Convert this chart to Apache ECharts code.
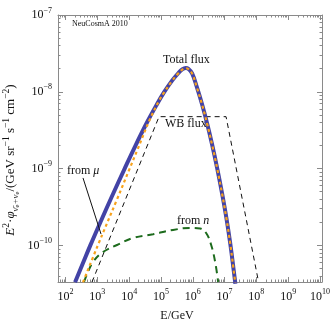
<!DOCTYPE html>
<html><head><meta charset="utf-8">
<script src="https://cdn.jsdelivr.net/npm/echarts@6/dist/echarts.min.js"></script>
<style>html,body{margin:0;padding:0;background:#fff}#c{width:332px;height:324px}</style>
</head><body><div id="c"></div>
<script>
// axis ranges (log10 units)
const xMin = 1.764, xMax = 10.063;
const yMin = -10.477, yMax = -7;
const xMajor = [2, 3, 4, 5, 6, 7, 8, 9, 10];
const yMajor = [-10, -9, -8, -7];

// series: [log10(E/GeV), log10(E^2 phi / (GeV sr^-1 s^-1 cm^-2))]
const totalFlux = [
  [2.30,-10.48],[2.54,-10.24],[2.78,-10.00],[3.10,-9.695],[3.45,-9.37],[3.86,-9.00],
  [4.20,-8.70],[4.56,-8.40],[4.85,-8.18],[5.10,-8.005],[5.35,-7.855],[5.55,-7.755],
  [5.68,-7.705],[5.78,-7.69],[5.86,-7.70],[5.98,-7.76],[6.13,-7.94],[6.29,-8.16],
  [6.45,-8.41],[6.61,-8.69],[6.77,-9.00],[6.92,-9.32],[7.06,-9.65],[7.18,-9.98],
  [7.28,-10.30],[7.34,-10.50]
];
const fromMu = [
  [2.55,-10.48],[3.016,-10.0],[3.61,-9.41],[4.017,-9.0],[4.256,-8.76],[4.64,-8.37],
  [4.95,-8.11],[5.10,-8.008],[5.35,-7.858],[5.55,-7.758],[5.68,-7.708],[5.78,-7.693],
  [5.86,-7.703],[5.98,-7.763],[6.13,-7.943],[6.29,-8.163],[6.45,-8.413],[6.61,-8.693],
  [6.77,-9.003],[6.92,-9.323],[7.06,-9.653],[7.18,-9.983],[7.28,-10.303],[7.34,-10.503]
];
const fromN = [
  [2.582,-10.477],[2.708,-10.346],[2.865,-10.216],[3.179,-10.086],[3.619,-9.995],
  [4.123,-9.904],[4.752,-9.855],[5.381,-9.799],[5.915,-9.773],[6.230,-9.780],
  [6.421,-9.839],[6.579,-9.995],[6.704,-10.216],[6.799,-10.477]
];
const wbFlux = [[2.833,-10.477],[4.940,-8.324],[7.047,-8.324],[8.069,-10.477]];
const muPointer = [[2.55,-9.122],[3.116,-9.852]];

const minorVals = (lo, hi) => {
  const out = [];
  for (let n = Math.floor(lo) - 1; n <= Math.ceil(hi); n++)
    for (let k = 2; k <= 9; k++) { const v = n + Math.log10(k); if (v > lo && v < hi) out.push(v); }
  return out;
};
const xMinor = minorVals(xMin, xMax), yMinor = minorVals(yMin, yMax);

const SERIF = '"Liberation Serif","DejaVu Serif",serif';
const frameColor = '#8a8a8a';
const supRich = {
  b: {fontFamily: SERIF, fontSize: 12, lineHeight: 17, color: '#111'},
  s: {fontFamily: SERIF, fontSize: 8, lineHeight: 9, verticalAlign: 'top', color: '#111'}
};

function xAx(pos, major, label) {
  return {
    type: 'value', min: xMin, max: xMax, position: pos,
    axisLine: {show: major, onZero: false, lineStyle: {color: frameColor, width: 1}},
    axisTick: {show: true, inside: true, length: major ? 5 : 2.5, customValues: major ? xMajor : xMinor,
               lineStyle: {color: frameColor}},
    axisLabel: {show: label, customValues: xMajor, margin: 6, hideOverlap: false,
                formatter: v => '{b|10}{s|' + Math.round(v) + '}', rich: supRich},
    splitLine: {show: false}
  };
}
function yAx(pos, major, label) {
  return {
    type: 'value', min: yMin, max: yMax, position: pos,
    axisLine: {show: major, onZero: false, lineStyle: {color: frameColor, width: 1}},
    axisTick: {show: true, inside: true, length: major ? 5 : 2.5, customValues: major ? yMajor : yMinor,
               lineStyle: {color: frameColor}},
    axisLabel: {show: label, customValues: yMajor, margin: 6, hideOverlap: false,
                formatter: v => '{b|10}{s|\u2212' + Math.abs(Math.round(v)) + '}', rich: supRich},
    splitLine: {show: false}
  };
}

const yTitleRich = {
  n: {fontFamily: SERIF, fontSize: 13, lineHeight: 19, fill: '#111'},
  i: {fontFamily: SERIF, fontSize: 13, lineHeight: 19, fontStyle: 'italic', fill: '#111'},
  sp: {fontFamily: SERIF, fontSize: 9.5, lineHeight: 10, verticalAlign: 'top', fill: '#111'},
  sb: {fontFamily: SERIF, fontSize: 9, lineHeight: 10, verticalAlign: 'bottom', fontStyle: 'italic', fill: '#111'},
  ssb: {fontFamily: SERIF, fontSize: 6.5, lineHeight: 6, verticalAlign: 'bottom', fill: '#111'}
};

const chart = echarts.init(document.getElementById('c'), null, {renderer: 'canvas'});
chart.setOption({
  animation: false,
  backgroundColor: '#fff',
  grid: {left: 58, right: 10, top: 15, bottom: 42, containLabel: false, outerBoundsMode: 'none'},
  xAxis: [xAx('bottom', true, true), xAx('bottom', false, false), xAx('top', true, false), xAx('top', false, false)],
  yAxis: [yAx('left', true, true), yAx('left', false, false), yAx('right', true, false), yAx('right', false, false)],
  series: [
    {type: 'line', data: wbFlux, showSymbol: false, symbol: 'none', clip: true,
     lineStyle: {color: '#111', width: 1, type: [5, 4]}},
    {type: 'line', data: fromN, showSymbol: false, symbol: 'none', smooth: 0.4, clip: true,
     lineStyle: {color: '#1d6b1d', width: 2, type: [7, 5]}},
    {type: 'line', data: totalFlux, showSymbol: false, symbol: 'none', smooth: 0.4, clip: true,
     lineStyle: {color: '#4343a6', width: 4}},
    {type: 'line', data: fromMu, showSymbol: false, symbol: 'none', smooth: 0.4, clip: true,
     lineStyle: {color: '#f7a21b', width: 2.2, type: [3, 3]},
     markLine: {silent: true, symbol: 'none', label: {show: false},
       lineStyle: {color: '#111', width: 1, type: 'solid'},
       data: [[{coord: muPointer[0]}, {coord: muPointer[1]}]]}}
  ],
  graphic: [
    {type: 'text', left: 72, top: 20, style: {text: 'NeuCosmA 2010', font: '8px ' + SERIF, fill: '#111'}},
    {type: 'text', left: 163, top: 54, style: {text: 'Total flux', font: '12px ' + SERIF, fill: '#111'}},
    {type: 'text', left: 165, top: 118, style: {text: 'WB flux', font: '12px ' + SERIF, fill: '#111'}},
    {type: 'text', left: 67, top: 165, style: {text: '{n|from }{i|\u03bc}', font: '12px ' + SERIF, fill: '#111',
      rich: {n: {font: '12px ' + SERIF, fill: '#111'}, i: {font: 'italic 12px ' + SERIF, fill: '#111'}}}},
    {type: 'text', left: 177, top: 215, style: {text: '{n|from }{i|n}', font: '12px ' + SERIF, fill: '#111',
      rich: {n: {font: '12px ' + SERIF, fill: '#111'}, i: {font: 'italic 12px ' + SERIF, fill: '#111'}}}},
    {type: 'text', x: 177, y: 316, style: {text: 'E/GeV', font: '12px ' + SERIF, fill: '#111',
      align: 'center', verticalAlign: 'middle'}},
    {type: 'text', x: 11, y: 160, rotation: Math.PI / 2,
     style: {text: '{i|E}{sp|2}{n|\u00b7}{i|\u03c6}{sb|\u03bd\u0304}{ssb|e}{sb|+\u03bd}{ssb|e}{n|/(GeV sr}{sp|\u22121}{n| s}{sp|\u22121}{n| cm}{sp|\u22122}{n|)}',
       font: '13px ' + SERIF, fill: '#111', align: 'center', verticalAlign: 'middle', rich: yTitleRich}}
  ]
});
</script>
</body></html>
